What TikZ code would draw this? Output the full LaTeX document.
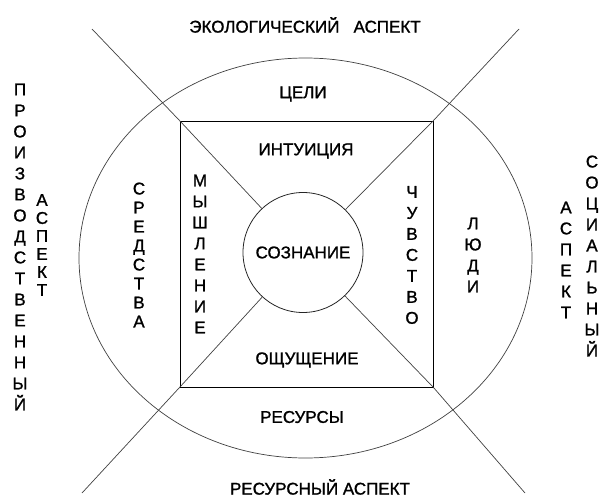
\documentclass[tikz,border=0pt]{standalone}
\usepackage{fontspec}
\setmainfont[FakeBold=1.2]{Liberation Sans}
\begin{document}
\begin{tikzpicture}[x=1pt, y=-1pt,
        thinline/.style={draw=black!75, line width=0.7pt},
        lbl/.style={inner sep=0pt, font=\fontsize{17}{21}\selectfont},
        vert/.style={lbl, align=center}]
    \useasboundingbox (0,0) rectangle (603,498);

    % ellipse, square and circle
    \draw[thinline] (305.5,258) ellipse [x radius=226.5pt, y radius=200pt];
    \node[draw, line width=1pt, minimum width=253pt, minimum height=266pt, inner sep=0pt] (sq) at (306.5,254) {};
    \node[draw=black!85, line width=0.8pt, circle, minimum size=120pt, inner sep=0pt, lbl] (sz) at (303,252.5) {СОЗНАНИЕ};

    % diagonals
    \coordinate (tl) at (92,29);
    \coordinate (tr) at (519,29);
    \coordinate (bl) at (82,493);
    \coordinate (br) at (525,493);
    \foreach \o/\c in {tl/north west, tr/north east, bl/south west, br/south east}
        \draw[thinline] (\o) -- (sq.\c) -- (sz);

    % labels
    \node[lbl] (ekol) at (305,25) {ЭКОЛОГИЧЕСКИЙ\ \ \ АСПЕКТ};
    \node[lbl] (celi) at (303,94) {ЦЕЛИ};
    \node[lbl] (intu) at (306,151) {ИНТУИЦИЯ};
    \node[lbl] (oshch) at (307,360) {ОЩУЩЕНИЕ};
    \node[lbl] (resursy) at (302,417) {РЕСУРСЫ};
    \node[lbl] (resasp) at (320,487) {РЕСУРСНЫЙ АСПЕКТ};

    \node[vert, font=\fontsize{17}{19}\selectfont] (sredstva) at (139,255) {С\\Р\\Е\\Д\\С\\Т\\В\\А};
    \node[vert] (myshl) at (200,254) {М\\Ы\\Ш\\Л\\Е\\Н\\И\\Е};
    \node[vert] (chuv) at (412,255) {Ч\\У\\В\\С\\Т\\В\\О};
    \node[vert] (lyudi) at (473,255) {Л\\Ю\\Д\\И};

    \node[vert] (proizv) at (20,247) {П\\Р\\О\\И\\З\\В\\О\\Д\\С\\Т\\В\\Е\\Н\\Н\\Ы\\Й};
    \node[vert, font=\fontsize{17}{18}\selectfont] (aspl) at (42,245) {А\\С\\П\\Е\\К\\Т};
    \node[vert] (soc) at (592,256) {С\\О\\Ц\\И\\А\\Л\\Ь\\Н\\Ы\\Й};
    \node[vert] (aspr) at (566,260) {А\\С\\П\\Е\\К\\Т};
\end{tikzpicture}
\end{document}
